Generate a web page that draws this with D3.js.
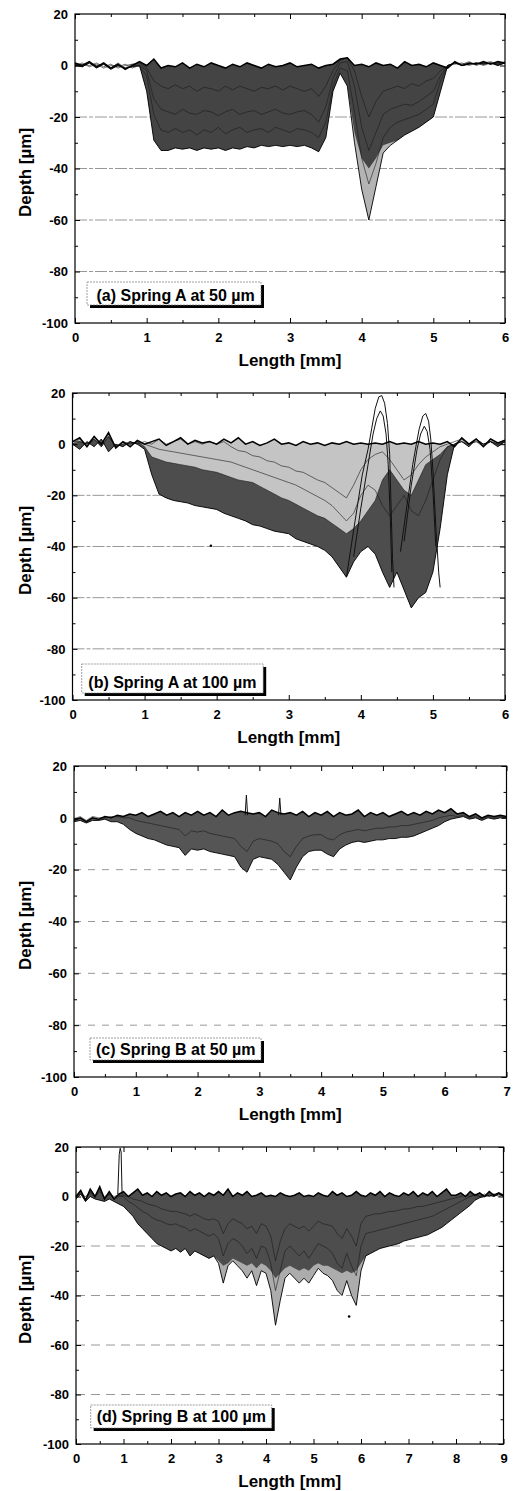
<!DOCTYPE html>
<html>
<head>
<meta charset="utf-8">
<script src="https://cdn.jsdelivr.net/npm/d3@7"></script>
<style>
  body { margin: 0; background: #fff; }
  text { font-family: "Liberation Sans", Arial, sans-serif; font-weight: bold; fill: #000; }
</style>
</head>
<body>
<svg id="chart" width="516" height="1491"></svg>
<script>
// Sample positions along the scan (mm)
const len6 = [
  0,0.1,0.2,0.3,0.4,0.5,0.6,0.7,0.8,0.9,
  1,1.1,1.2,1.3,1.4,1.5,1.6,1.7,1.8,1.9,
  2,2.1,2.2,2.3,2.4,2.5,2.6,2.7,2.8,2.9,
  3,3.1,3.2,3.3,3.4,3.5,3.6,3.7,3.8,3.9,
  4,4.1,4.2,4.3,4.4,4.5,4.6,4.7,4.8,4.9,
  5,5.1,5.2,5.3,5.4,5.5,5.6,5.7,5.8,5.9,
  6];
const len7 = len6.concat([
  6.1,6.2,6.3,6.4,6.5,6.6,6.7,6.8,6.9,7]);
const len9 = len7.concat([
  7.1,7.2,7.3,7.4,7.5,7.6,7.7,7.8,7.9,8,
  8.1,8.2,8.3,8.4,8.5,8.6,8.7,8.8,8.9,9]);

// Axis ticks
const depthTicks = [-100, -80, -60, -40, -20, 0, 20];
const depthMinor = [-90, -70, -50, -30, -10, 10];
const gridDepths = [-80, -60, -40, -20];
const lengthTicks6 = [0, 1, 2, 3, 4, 5, 6];
const lengthMinor6 = [0.5, 1.5, 2.5, 3.5, 4.5, 5.5];
const lengthTicks7 = [0, 1, 2, 3, 4, 5, 6, 7];
const lengthMinor7 = [0.5, 1.5, 2.5, 3.5, 4.5, 5.5, 6.5];
const lengthTicks9 = [0, 1, 2, 3, 4, 5, 6, 7, 8, 9];
const lengthMinor9 = [0.5, 1.5, 2.5, 3.5, 4.5, 5.5, 6.5, 7.5, 8.5];

// (a) Spring A at 50 um: depth profiles (um)
const surfA = [
  1,0,1.5,-0.5,1,-1,0.5,-1.5,0,1.5,
  0,2.5,-1,0,-0.5,1,-1,0.5,-0.5,1,
  0,-1,0.5,-0.5,1,0,-1,0.5,-0.5,0,
  1,-0.5,0,0.5,-1,0,0.5,2.5,3,0,
  0.5,-0.5,1,0,0.5,-1,1.5,0,0.5,-0.5,
  1,0,-1,1.5,0,1,0.5,1.5,0.5,1.5,
  1];
const wearA1 = [
  0.5,-0.5,1,0,0.5,-1,1,-1,0.5,1,
  -1,-6,-8,-9,-7.5,-9,-8,-10,-8.5,-9,
  -10,-8,-9.5,-8,-9,-10,-8.5,-9,-8,-9.5,
  -8,-9,-10,-9,-12,-8,-2,2,3,-2,
  -12,-20,-14,-10,-9,-8,-9,-7,-8,-6,
  -5,-2,0,1,0.5,1.5,0,1,1.5,0.5,
  1];
const wearA2 = [
  0,1,-0.5,0.5,-1,0,-0.5,0.5,-1,0,
  -2,-13,-17,-18,-19,-17,-18.5,-19,-17.5,-18,
  -19.5,-18,-17,-19,-18,-17.5,-19,-18,-17,-18.5,
  -19,-18,-17.5,-19,-22,-16,-5,1,1.5,-8,
  -24,-33,-26,-19,-17,-16,-15,-15.5,-14,-12,
  -10,-4,0,0.5,1,0,1,0.5,1,0,
  1];
const wearA3 = [
  -0.5,0.5,0,1,-0.5,0.5,-1,0,0.5,-0.5,
  -4,-19,-25,-26,-24.5,-26,-25,-27,-25,-26,
  -24,-26.5,-25,-24,-26,-25,-24.5,-26,-24,-25,
  -26,-24.5,-25,-26,-28,-22,-8,-1,-2,-18,
  -36,-46,-38,-28,-24,-22,-21,-20,-19,-17,
  -15,-6,0,1,0,0.5,1,0,1,0.5,
  1.5];
const meshA = [
  0,-0.5,1,-1,0.5,-1.5,0,-1,-0.5,0,
  -10,-29,-33,-33,-32,-32.5,-32,-33,-32,-32.5,
  -32,-33,-32,-32.5,-31.5,-32,-31,-31.5,-31,-31.5,
  -31,-31.5,-31,-32,-33.5,-28,-10,-3,-8,-26,
  -36,-40,-36,-31,-30,-29,-27,-25.5,-24,-22,
  -20,-10,0,1,0,0.5,1,0.5,1,0,
  1];
const floorA = [
  0,-0.5,1,-1,0.5,-1.5,0,-1,-0.5,0,
  -10,-29,-33,-33,-32,-32.5,-32,-33,-32,-32.5,
  -32,-33,-32,-32.5,-31.5,-32,-31,-31.5,-31,-31.5,
  -31,-31.5,-31,-32,-33.5,-28,-10,-3,-8,-30,
  -48,-60,-47,-34,-31,-29,-27,-25.5,-24,-22,
  -20,-10,0,1,0,0.5,1,0.5,1,0,
  1];

// (b) Spring A at 100 um
const surfB = [
  1,2.5,-1,3,0,4.5,-1.5,1,-1,1.5,
  0,1,2,-0.5,1,2.5,0,1.5,0.5,1,
  0,2,0.5,2.5,0,1,-0.5,0.5,2,0,
  0.5,-0.5,1,0,0.5,-0.5,0.5,0,1,0,
  0.5,0,0.5,0,1,0,0.5,0,1,0,
  0.5,0,1,-1,2.5,0,2,-1,2,0.5,
  1.5];
const wearB1 = [
  0,2,-1,2,-1,3,-1,0,1,0,
  1,0,2,0,1,2,0,1,0,1,
  0,1,-1,-2.5,-3,-4.5,-5,-6.5,-7,-8.5,
  -9,-10.5,-11,-12.5,-14,-15,-17,-19,-21,-16,
  -10,-6,-4,-3,-6,-10,-14,-12,-8,-5,
  -3,-1,0,1,2,0,1,-1,1,0,
  1];
const wearB2 = [
  1,1,0,3,-1,4,-1,1,0,1,
  0,-1,-2,-2.5,-3,-3.5,-4,-4.5,-5,-5.5,
  -6,-6.5,-7,-8,-9,-10,-11,-12,-13,-14,
  -15,-16,-17.5,-19,-20.5,-22,-24,-27,-30,-27,
  -20,-16,-18,-24,-28,-24,-20,-26,-28,-22,
  -14,-6,-1,0,2,0,1,0,1,0,
  1];
const bandB = [
  0,1,0,2,-1,3,-1,0,0,1,
  -1,-5,-6,-7,-7.5,-8,-8.5,-9,-10,-10.5,
  -11,-12,-13,-14,-14.5,-15,-16.5,-18,-19.5,-21,
  -22,-23.5,-25,-26.5,-28,-29,-31,-33,-35,-33,
  -30,-26,-22,-14,-10,-14,-18,-20,-14,-8,
  -6,-4,-1,0,1,0,2,0,1,0,
  1];
const floorB = [
  0,-2,1,-1,2,-3,0,-1,1,0,
  -2,-12,-19.5,-21,-22,-22.5,-23,-24,-24.5,-25,
  -25.5,-27,-28,-29,-30,-31.5,-32,-33,-34,-34.5,
  -35,-37,-38,-39,-40,-41.5,-44,-48,-52,-46,
  -42,-40,-43,-50,-56,-50,-57,-64,-60,-58,
  -50,-33,-12,0,1,-1,2,0,1,-1,
  1];
// pile-up ridges, [length, depth]
const ridgeB1 = [[3.8,-52],[3.92,-30],[4.02,-12],[4.1,-2],[4.15,6],[4.2,14],[4.25,18.5],[4.29,19],[4.33,16],[4.37,8],[4.4,-4],[4.42,-25],[4.44,-45],[4.46,-56]];
const ridgeB2 = [[3.9,-44],[4.0,-25],[4.1,-8],[4.17,4],[4.22,10],[4.27,13],[4.31,11],[4.35,4],[4.38,-8],[4.41,-30],[4.43,-50]];
const ridgeB3 = [[4.55,-42],[4.65,-22],[4.72,-8],[4.77,0],[4.81,6],[4.86,11],[4.9,12],[4.94,9],[4.97,2],[5.0,-10],[5.04,-32],[5.08,-50],[5.1,-56]];
const ridgeB4 = [[4.6,-38],[4.7,-16],[4.78,-2],[4.83,4],[4.88,7],[4.92,5],[4.96,-2],[5.0,-18],[5.04,-40]];
const strayB = [[1.92,-39.7]];

// (c) Spring B at 50 um
const surfC = [
  -1,0,-1.5,0,-0.5,0.5,0,1,0.5,1.5,
  1,2,0.5,1.5,2.5,1,2,0.5,2,1,
  2.5,1,2,0.5,3,1,2,2.5,2,1.5,
  2,0.5,3,2,1.5,2,1,2.5,0.5,2,
  1,2.5,0.5,2,1,1.5,3,0.5,2,1,
  2,0.5,1.5,2.5,1,2,1,2.5,1.5,3,
  2,3.5,1.5,2,0.5,1.5,0,1,0.5,1,
  0.5];
const wearC1 = [
  -0.5,0.5,-1,0.5,0,0,0.5,0.5,0,0,
  -1,-1.5,-2,-2.5,-3,-3.5,-4,-4.5,-7,-5,
  -5.5,-5,-6,-6.5,-7,-7.5,-8,-11,-13,-9,
  -8,-8.5,-9,-10,-13,-15,-11,-8,-7,-6.5,
  -6.5,-8,-8.5,-6.5,-5.5,-5,-4.5,-5,-4.5,-4,
  -4,-3.5,-3.5,-3,-3,-2.5,-2,-1.5,-1,0,
  0.5,1,0.5,1,0,0.5,-0.5,0.5,0,0.5,
  0];
const floorC = [
  -1.5,-1,-2,-1,-1,-0.5,-1.5,-1.5,-2.5,-4.5,
  -6,-7,-8,-8.5,-9.5,-10.5,-11,-11.5,-14.5,-12,
  -12.5,-12,-13,-13.5,-14,-14.5,-15,-19,-21,-16,
  -15,-15.5,-16,-18,-21,-24,-19,-15,-13,-12.5,
  -12.5,-14,-15,-12,-10.5,-9.5,-9,-9.5,-9,-8.5,
  -8.5,-8,-8,-7.5,-7.5,-7,-6,-5,-4,-3,
  -1.5,-0.5,0,0.5,-0.5,0,-1,0,-0.5,0,
  0];
const spikeC1 = [[2.77,1],[2.79,8.8],[2.81,1]];
const spikeC2 = [[3.31,1],[3.33,7.6],[3.35,1]];

// (d) Spring B at 100 um
const surfD = [
  0,2.5,-1.5,3,0,4,-1,2,-1,1,
  2,0,1.5,3,0.5,1.5,0,2,0.5,1.5,
  0,1,1.5,0,2,0.5,1.5,0,1.5,0.5,
  2,0.5,3,0,1.5,0.5,2,0,0.5,1.5,
  0,0.5,0,1.5,0.5,0,0.5,1.5,0,0.5,
  0,1.5,0.5,0,2,0.5,1.5,0,0.5,2,
  0.5,0,1.5,0.5,2,0,1.5,0.5,0,1.5,
  0.5,2,0,1.5,0.5,2,0,1.5,3,0.5,
  0.5,1.5,0,2,0.5,1.5,0,2,0.5,1.5,
  0.5];
const wearD1 = [
  0,2,-1,2,0,3,-1,1,-1,0,
  0,-2,-3,-4.5,-6,-7,-8.5,-9.5,-10,-11,
  -11.5,-11,-12,-12.5,-14,-13,-14,-15,-16,-15,
  -17,-24,-19,-17,-18,-20,-23,-21,-25,-20,
  -21,-27,-38,-30,-22,-20,-22,-24,-22,-25,
  -22,-19,-20,-21,-23,-27,-29,-23,-28,-32,
  -20,-15,-14.5,-14,-13.5,-13,-12.5,-12,-11.5,-11,
  -10.5,-10,-9.5,-9,-8.5,-8,-7,-6,-5,-4,
  -3,-2,-1,0,0.5,0,1,0,1,0.5,
  0.5];
const wearD2 = [
  0.5,1,0,1.5,-0.5,2,0,1,0,0.5,
  0.5,0,-1,-1.5,-2,-3,-3.5,-4,-5,-5.5,
  -6,-6,-6.5,-7,-8,-7,-8,-9,-9.5,-9,
  -10,-15,-11,-9,-10,-11,-13,-12,-15,-11,
  -12,-16,-26,-18,-13,-11,-12,-13,-12,-14,
  -12,-10,-11,-11.5,-12,-15,-17,-13,-16,-20,
  -11,-8,-7.5,-7,-7,-6.5,-6,-6,-5.5,-5,
  -5,-4.5,-4,-4,-3.5,-3,-2.5,-2,-1.5,-1,
  -0.5,0,0.5,0,1,0,0.5,0,1,0,
  0.5];
const meshD = [
  -1,1,-2,0,-1,-1.5,-2,-1,-2,-3,
  -4,-6,-8,-11,-13,-15,-17,-19,-20,-21,
  -22,-21,-22.5,-21,-24,-22,-23,-24,-25,-24,
  -26,-28,-27,-25,-26,-27,-28,-27,-29,-27,
  -28,-30,-33,-31,-29,-28,-29,-30,-29,-30,
  -28,-27,-28,-28,-29,-30,-31,-30,-31,-30,
  -27,-24,-23,-22,-21,-20.5,-20,-19.5,-19,-18,
  -17.5,-17,-16.5,-16,-15.5,-14.5,-13.5,-12.5,-11,-9.5,
  -8,-6.5,-5,-3.5,-1.5,-0.5,0,0.5,0,1,
  0];
const floorD = [
  -1,1,-2,0,-1,-1.5,-2,-1,-2,-3,
  -4,-6,-8,-11,-13,-15,-17,-19,-20,-21,
  -22,-21,-22.5,-21,-24,-22,-23,-24,-25,-24,
  -27,-35,-28,-26,-28,-30,-33,-30,-36,-30,
  -31,-38,-52,-42,-33,-31,-33,-35,-33,-35,
  -32,-29,-31,-32,-34,-38,-40,-34,-40,-44,
  -30,-24,-23,-22,-21,-20.5,-20,-19.5,-19,-18,
  -17.5,-17,-16.5,-16,-15.5,-14.5,-13.5,-12.5,-11,-9.5,
  -8,-6.5,-5,-3.5,-1.5,-0.5,0,0.5,0,1,
  0];
const spikeD = [[0.88,1],[0.91,17],[0.93,19.5],[0.95,18],[0.97,1]];
const strayD = [[5.75,-48.5]];

const svg = d3.select("#chart");

const panels = [
  { tag: "(a) Spring A at 50 \u00b5m", xMax: 6, len: len6, ticks: lengthTicks6, minor: lengthMinor6,
    left: 75, right: 505, top: 14, bottom: 323,
    surface: surfA, floor: floorA, wear: [wearA1, wearA2, wearA3],
    layers: [
      { upper: surfA, lower: floorA, fill: "#b4b4b4" },
      { upper: surfA, lower: meshA, fill: "#444" }
    ],
    extras: [], stray: [], dash: "12,2,4,2",
    box: { x: 87, y: 282, w: 174, h: 23, tx: 96.5, ty: 300.5 } },
  { tag: "(b) Spring A at 100 \u00b5m", xMax: 6, len: len6, ticks: lengthTicks6, minor: lengthMinor6,
    left: 72.5, right: 505, top: 393, bottom: 700,
    surface: surfB, floor: floorB, wear: [wearB1, wearB2, bandB],
    layers: [
      { upper: surfB, lower: floorB, fill: "#c4c4c4" },
      { upper: bandB, lower: floorB, fill: "#4d4d4d" }
    ],
    extras: [ridgeB1, ridgeB2, ridgeB3, ridgeB4], stray: strayB, dash: "12,2,4,2",
    box: { x: 81.7, y: 664, w: 181.5, h: 29, tx: 88.3, ty: 687.5 } },
  { tag: "(c) Spring B at 50 \u00b5m", xMax: 7, len: len7, ticks: lengthTicks7, minor: lengthMinor7,
    left: 74, right: 506.5, top: 766, bottom: 1077,
    surface: surfC, floor: floorC, wear: [wearC1],
    layers: [
      { upper: surfC, lower: floorC, fill: "#555" }
    ],
    extras: [spikeC1, spikeC2], stray: [], dash: "7,7",
    box: { x: 90, y: 1038, w: 171, h: 22, tx: 96, ty: 1055 } },
  { tag: "(d) Spring B at 100 \u00b5m", xMax: 9, len: len9, ticks: lengthTicks9, minor: lengthMinor9,
    left: 76, right: 503.5, top: 1147, bottom: 1444,
    surface: surfD, floor: floorD, wear: [wearD1, wearD2],
    layers: [
      { upper: surfD, lower: floorD, fill: "#acacac" },
      { upper: surfD, lower: meshD, fill: "#4d4d4d" }
    ],
    extras: [spikeD], stray: strayD, dash: "9,6",
    box: { x: 90.7, y: 1405, w: 181, h: 23, tx: 96.7, ty: 1421.7 } }
];

function styleAxis(sel) {
  sel.select(".domain").remove();
  sel.selectAll(".tick line").attr("stroke", "#000").attr("stroke-width", 1);
  sel.selectAll(".tick text")
    .attr("fill", "#000")
    .style("font-size", "13px")
    .style("font-weight", "bold")
    .style("font-family", "'Liberation Sans', Arial, sans-serif");
}

function drawPanel(p) {
  const g = svg.append("g");
  const x = d3.scaleLinear().domain([0, p.xMax]).range([p.left, p.right]);
  const y = d3.scaleLinear().domain([-100, 20]).range([p.bottom, p.top]);

  // dashed grid lines
  g.append("g").selectAll("line")
    .data(gridDepths)
    .join("line")
    .attr("x1", p.left).attr("x2", p.right)
    .attr("y1", d => y(d)).attr("y2", d => y(d))
    .attr("stroke", "#8c8c8c")
    .attr("stroke-width", 0.9)
    .attr("stroke-dasharray", p.dash);

  // shaded worn region (dense overlapping scans)
  p.layers.forEach(layer => {
    const rows = p.len.map((v, i) => ({ x: v, top: layer.upper[i], bot: layer.lower[i] }));
    g.append("path").datum(rows)
      .attr("d", d3.area().x(d => x(d.x)).y0(d => y(d.bot)).y1(d => y(d.top)))
      .attr("fill", layer.fill);
  });

  const profile = d3.line().x((d, i) => x(p.len[i])).y(d => y(d));
  const polyline = d3.line().x(d => x(d[0])).y(d => y(d[1]));

  p.wear.forEach(w => {
    g.append("path").attr("d", profile(w))
      .attr("fill", "none").attr("stroke", "#1a1a1a").attr("stroke-width", 0.6);
  });
  p.extras.forEach(r => {
    g.append("path").attr("d", polyline(r))
      .attr("fill", "none").attr("stroke", "#111").attr("stroke-width", 1);
  });
  g.append("path").attr("d", profile(p.floor))
    .attr("fill", "none").attr("stroke", "#000").attr("stroke-width", 0.9);
  g.append("path").attr("d", profile(p.surface))
    .attr("fill", "none").attr("stroke", "#000").attr("stroke-width", 1.5);

  g.selectAll(".stray").data(p.stray).join("circle")
    .attr("class", "stray")
    .attr("cx", d => x(d[0])).attr("cy", d => y(d[1])).attr("r", 1.3)
    .attr("fill", "#000");

  // frame
  g.append("rect")
    .attr("x", p.left).attr("y", p.top)
    .attr("width", p.right - p.left).attr("height", p.bottom - p.top)
    .attr("fill", "none").attr("stroke", "#000").attr("stroke-width", 1.2);

  // ticks: all point inward
  g.append("g").attr("transform", `translate(0,${p.bottom})`)
    .call(d3.axisBottom(x).tickValues(p.ticks).tickSize(-5).tickPadding(9.5).tickFormat(d => String(d)))
    .call(styleAxis);
  g.append("g").attr("transform", `translate(0,${p.bottom})`)
    .call(d3.axisBottom(x).tickValues(p.minor).tickSize(-3).tickFormat(""))
    .call(styleAxis);
  g.append("g").attr("transform", `translate(0,${p.top})`)
    .call(d3.axisTop(x).tickValues(p.ticks).tickSize(-5).tickFormat(""))
    .call(styleAxis);
  g.append("g").attr("transform", `translate(0,${p.top})`)
    .call(d3.axisTop(x).tickValues(p.minor).tickSize(-3).tickFormat(""))
    .call(styleAxis);
  g.append("g").attr("transform", `translate(${p.left},0)`)
    .call(d3.axisLeft(y).tickValues(depthTicks).tickSize(-5).tickPadding(7).tickFormat(d => String(d)))
    .call(styleAxis);
  g.append("g").attr("transform", `translate(${p.left},0)`)
    .call(d3.axisLeft(y).tickValues(depthMinor).tickSize(-3).tickFormat(""))
    .call(styleAxis);
  g.append("g").attr("transform", `translate(${p.right},0)`)
    .call(d3.axisRight(y).tickValues(depthTicks).tickSize(-5).tickFormat(""))
    .call(styleAxis);
  g.append("g").attr("transform", `translate(${p.right},0)`)
    .call(d3.axisRight(y).tickValues(depthMinor).tickSize(-3).tickFormat(""))
    .call(styleAxis);

  // axis titles
  g.append("text")
    .attr("x", (p.left + p.right) / 2)
    .attr("y", p.bottom + 43)
    .attr("text-anchor", "middle")
    .style("font-size", "17px")
    .text("Length [mm]");
  g.append("text")
    .attr("transform", `translate(31,${(p.top + p.bottom) / 2 + 4}) rotate(-90)`)
    .attr("text-anchor", "middle")
    .style("font-size", "17px")
    .text("Depth [\u00b5m]");

  // label box with drop shadow
  const b = p.box;
  g.append("rect")
    .attr("x", b.x + 3).attr("y", b.y + 3).attr("width", b.w).attr("height", b.h)
    .attr("fill", "#000");
  g.append("rect")
    .attr("x", b.x).attr("y", b.y).attr("width", b.w).attr("height", b.h)
    .attr("fill", "#fff").attr("stroke", "#777").attr("stroke-width", 0.7)
    .attr("stroke-dasharray", "2,1");
  g.append("text")
    .attr("x", b.tx).attr("y", b.ty)
    .style("font-size", "16px")
    .text(p.tag);
}

panels.forEach(drawPanel);
</script>
</body>
</html>
